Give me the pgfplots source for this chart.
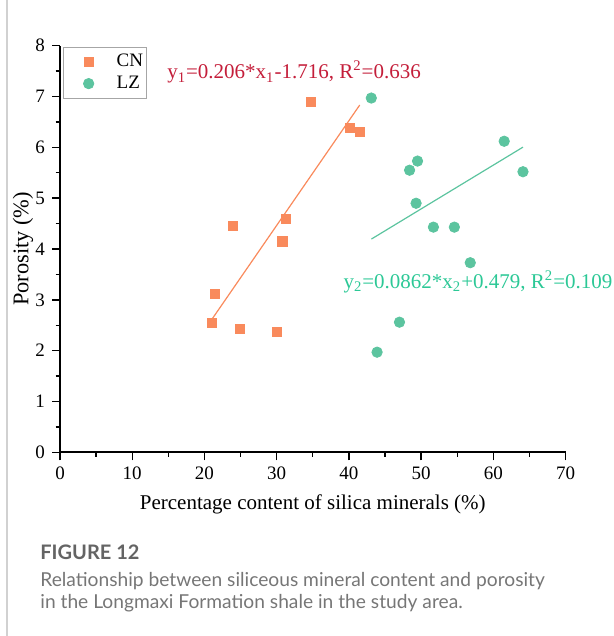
\documentclass[border=0pt]{standalone}
\usepackage{pgfplots}
\pgfplotsset{compat=1.18}
\usepackage{fontspec}
\setmainfont{Liberation Serif}
\newfontfamily\capfont{Lato}
\definecolor{cnorange}{HTML}{F98A5C}
\definecolor{lzgreen}{HTML}{5CC49F}
\definecolor{eqred}{HTML}{C41E3A}
\definecolor{eqgreen}{HTML}{2CC896}
\definecolor{capgrey}{HTML}{767676}

\begin{document}
\begin{tikzpicture}
% page is 614x636 px drawn at 0.5pt per px
\useasboundingbox (0,0) rectangle (307pt,318pt);
\draw[color=black!18, line width=0.6pt] (3.5pt,0) -- (3.5pt,318pt);
\begin{axis}[
    at={(30pt,91.85pt)}, anchor=south west,
    scale only axis,
    width=252.8pt, height=203.3pt,
    xmin=0, xmax=70, ymin=0, ymax=8,
    axis x line*=bottom, axis y line*=left,
    axis line style={line width=0.8pt, -},
    xtick={0,10,...,70}, ytick={0,1,...,8},
    minor xtick={5,15,...,65}, minor ytick={0.5,1.5,...,7.5},
    tick align=outside,
    major tick length=4pt, minor tick length=2.2pt,
    every tick/.style={line width=0.7pt, black},
    tick label style={font=\fontsize{9.5}{11}\selectfont},
    /pgf/number format/assume math mode=true,
    xlabel={Percentage content of silica minerals (\%)},
    ylabel={Porosity (\%)},
    xlabel style={font=\fontsize{10.5}{12}\selectfont,
        at={(axis description cs:0.5,-0.128)}, anchor=center},
    ylabel style={font=\fontsize{11.2}{13}\selectfont,
        at={(axis description cs:-0.073,0.5)}, anchor=center},
    clip=false,
    legend style={at={(axis cs:0.45,7.98)}, anchor=north west,
        draw=black!35, line width=0.4pt,
        font=\fontsize{9.5}{11}\selectfont,
        row sep=0pt, inner xsep=0pt, inner ysep=1.75pt,
        nodes={inner xsep=1.5pt, inner ysep=1pt,
               text height=7pt, text depth=2pt}},
    legend image code/.code={%
        \path[draw=none, fill=none] (0pt,0pt) -- (25pt,0pt);
        \draw[#1] plot coordinates {(12.5pt,0pt)};},
    legend cell align=left,
]
\addplot[only marks, mark=square*, mark size=2.3pt, color=cnorange] coordinates {
    (34.7,6.90) (23.9,4.45) (31.3,4.60) (30.8,4.15) (40.1,6.38)
    (41.5,6.30) (21.4,3.12) (21.0,2.54) (24.9,2.43) (30.0,2.37)
};
\addlegendentry{CN\hspace{-3.5pt}}
\addplot[only marks, mark=*, mark size=2.6pt, color=lzgreen] coordinates {
    (43.1,6.97) (61.5,6.12) (49.5,5.73) (48.4,5.55) (64.1,5.52)
    (49.3,4.90) (51.7,4.43) (54.6,4.43) (56.8,3.73) (47.0,2.56)
    (43.9,1.97)
};
\addlegendentry{LZ\hspace{-3.5pt}}
% fitted lines
\addplot[color=cnorange, line width=0.6pt, forget plot] coordinates {
    (20.96,2.602) (41.5,6.833)
};
\addplot[color=lzgreen, line width=0.6pt, forget plot] coordinates {
    (43.12,4.196) (64.1,6.004)
};
\node[anchor=base west, inner sep=0pt, text=eqred,
      font=\fontsize{10.5}{12}\selectfont] at (axis cs:14.8,7.35)
    {y\textsubscript{1}=0.206*x\textsubscript{1}-1.716, R\textsuperscript{2}=0.636};
\node[anchor=base west, inner sep=0pt, text=eqgreen,
      font=\fontsize{10.5}{12}\selectfont] at (axis cs:39.2,3.23)
    {y\textsubscript{2}=0.0862*x\textsubscript{2}+0.479, R\textsuperscript{2}=0.109};
\end{axis}
\node[anchor=base west, inner sep=0pt, text=capgrey!85!black,
      font=\capfont\bfseries\fontsize{10}{12}\selectfont] at (20pt,38pt) {FIGURE 12};
\node[anchor=base west, inner sep=0pt, text=capgrey,
      font=\capfont\fontsize{9.6}{11}\selectfont] at (20pt,24.5pt)
    {Relationship between siliceous mineral content and porosity};
\node[anchor=base west, inner sep=0pt, text=capgrey,
      font=\capfont\fontsize{9.6}{11}\selectfont] at (20pt,13.5pt)
    {in the Longmaxi Formation shale in the study area.};
\end{tikzpicture}
\end{document}
